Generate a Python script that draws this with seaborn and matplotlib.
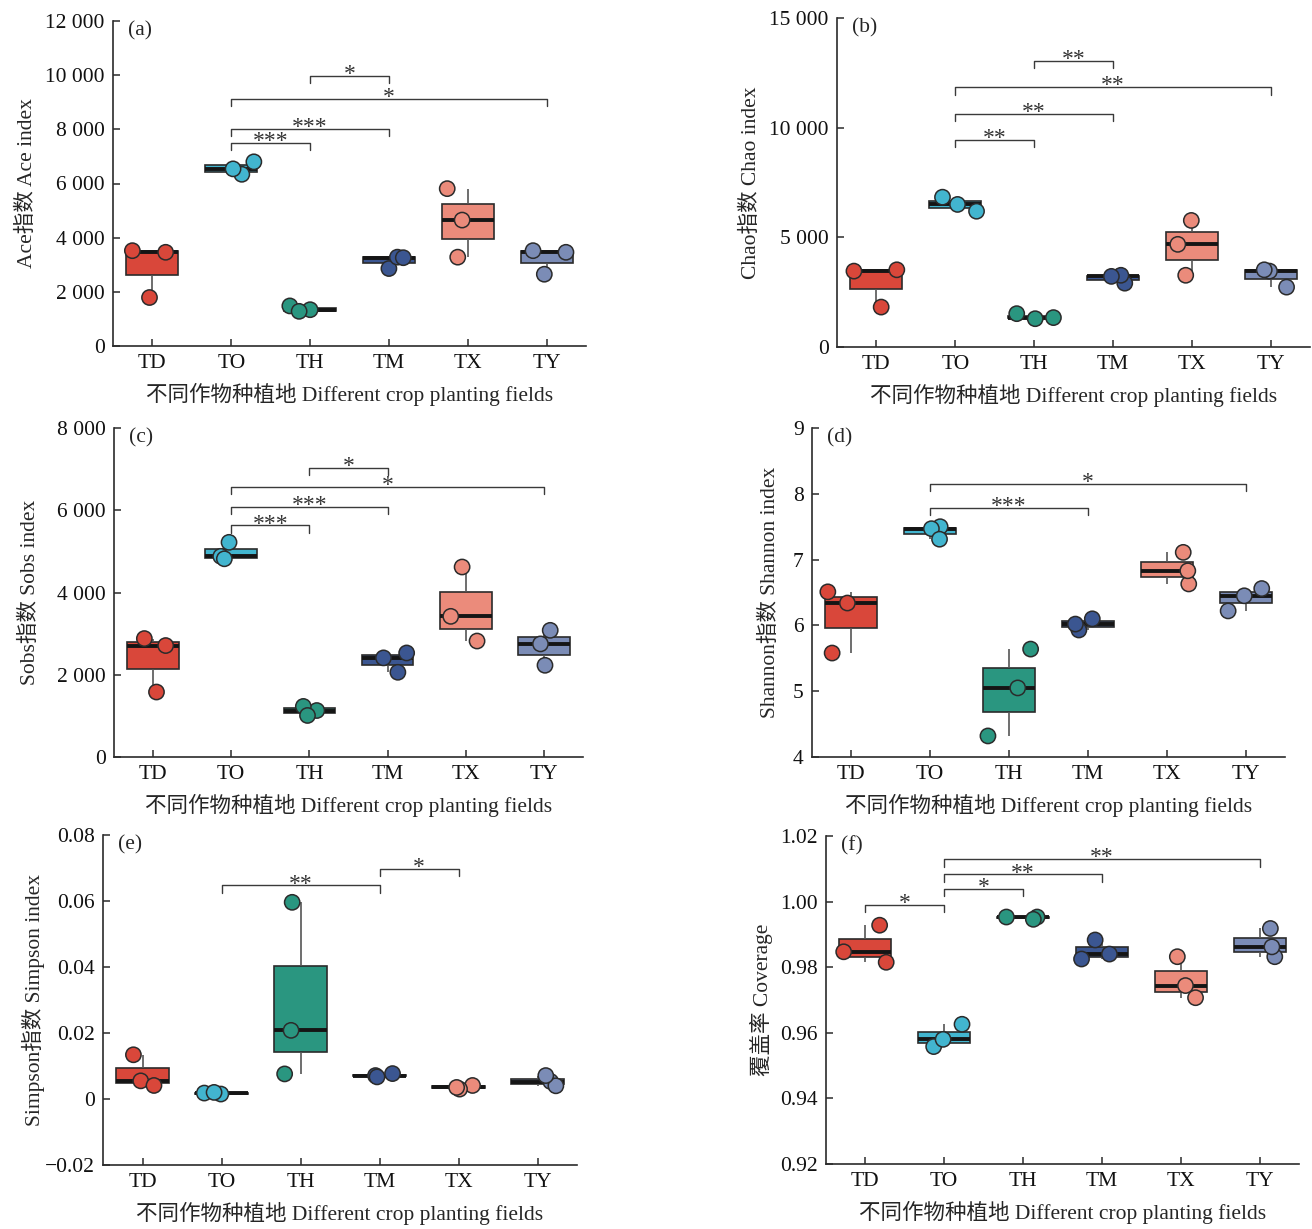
import numpy as np
import pandas as pd
import matplotlib
matplotlib.use("Agg")
import matplotlib.pyplot as plt
import seaborn as sns
from matplotlib.ticker import FuncFormatter

np.random.seed(7)

# --- data (3 replicates per field) ---
groups = ["TD", "TO", "TH", "TM", "TX", "TY"]
colors = ["#d9473a", "#42b5cf", "#2a9680", "#3b5691", "#eb8b7b", "#7b8cb6"]

ace = [[3520, 3460, 1790], [6340, 6800, 6540], [1340, 1480, 1280],
       [2860, 3280, 3260], [4650, 5810, 3280], [3460, 3520, 2650]]
chao = [[3520, 3460, 1820], [6190, 6830, 6500], [1340, 1520, 1290],
        [2910, 3270, 3220], [4680, 5770, 3270], [3460, 3520, 2730]]
sobs = [[2710, 2880, 1580], [4880, 5220, 4820], [1130, 1230, 1010],
        [2060, 2410, 2530], [3420, 2820, 4620], [2750, 3080, 2230]]
shannon = [[6.34, 6.51, 5.58], [7.50, 7.47, 7.31], [5.64, 5.05, 4.32],
           [5.93, 6.10, 6.02], [6.63, 6.83, 7.11], [6.45, 6.56, 6.22]]
simpson = [[0.0134, 0.0055, 0.0041], [0.0015, 0.0018, 0.0020], [0.0596, 0.0208, 0.0076],
           [0.0071, 0.0067, 0.0077], [0.0041, 0.0030, 0.0035], [0.0053, 0.0040, 0.0071]]
coverage = [[0.9928, 0.9815, 0.9847], [0.9626, 0.9558, 0.9580], [0.9953, 0.9946, 0.9953],
            [0.9840, 0.9825, 0.9883], [0.9707, 0.9832, 0.9744], [0.9918, 0.9832, 0.9862]]

# significance brackets: (group a, group b, level, label)
ace_sig = [("TO", "TH", 7490, "***"), ("TO", "TM", 8015, "***"),
           ("TO", "TY", 9130, "*"), ("TH", "TM", 9970, "*")]
chao_sig = [("TO", "TH", 9440, "**"), ("TO", "TM", 10630, "**"),
            ("TO", "TY", 11840, "**"), ("TH", "TM", 13050, "**")]
sobs_sig = [("TO", "TH", 5630, "***"), ("TO", "TM", 6090, "***"),
            ("TO", "TY", 6560, "*"), ("TH", "TM", 7030, "*")]
shannon_sig = [("TO", "TM", 7.79, "***"), ("TO", "TY", 8.15, "*")]
simpson_sig = [("TO", "TM", 0.0647, "**"), ("TM", "TX", 0.0697, "*")]
coverage_sig = [("TD", "TO", 0.9991, "*"), ("TO", "TH", 1.0038, "*"),
                ("TO", "TM", 1.0083, "**"), ("TO", "TY", 1.0129, "**")]

xlabel = "不同作物种植地 Different crop planting fields"


def thousands(v, pos):
    return f"{int(round(v)):,}".replace(",", " ")


def simp_fmt(v, pos):
    if abs(v) < 1e-9:
        return "0"
    return f"{v:.2f}".replace("-", "\u2212")


panels = [
    # values, sig, ylabel, ylim, yticks, formatter, letter, axes px (l, r, t, b), ylabel pad
    (ace, ace_sig, "Ace指数 Ace index", (0, 12000), np.arange(0, 12001, 2000),
     FuncFormatter(thousands), "(a)", (113, 586, 21, 346), 6),
    (chao, chao_sig, "Chao指数 Chao index", (0, 15000), np.arange(0, 15001, 5000),
     FuncFormatter(thousands), "(b)", (837, 1310, 18, 347), 6),
    (sobs, sobs_sig, "Sobs指数 Sobs index", (0, 8000), np.arange(0, 8001, 2000),
     FuncFormatter(thousands), "(c)", (114, 583, 428, 757), 12),
    (shannon, shannon_sig, "Shannon指数 Shannon index", (4, 9), np.arange(4, 10, 1),
     FuncFormatter(lambda v, p: f"{v:g}"), "(d)", (812, 1285, 428, 757), 9),
    (simpson, simpson_sig, "Simpson指数 Simpson index", (-0.02, 0.08),
     np.linspace(-0.02, 0.08, 6), FuncFormatter(simp_fmt), "(e)", (103, 577, 835, 1165), 0),
    (coverage, coverage_sig, "覆盖率 Coverage", (0.92, 1.02), np.linspace(0.92, 1.02, 6),
     FuncFormatter(lambda v, p: f"{v:.2f}"), "(f)", (826, 1299, 836, 1164), 5),
]

sns.set_theme(style="ticks")
plt.rcParams["font.family"] = ["Liberation Serif", "Noto Sans CJK SC"]
plt.rcParams["axes.unicode_minus"] = True

W, H = 1312, 1229
fig = plt.figure(figsize=(W / 100, H / 100), dpi=100)
line_c = "#2b2b2b"
fs = 15.5

for vals, sig, ylab, ylim, yt, fmt, letter, (l, r, t, b), ypad in panels:
    ax = fig.add_axes([l / W, 1 - b / H, (r - l) / W, (b - t) / H])
    df = pd.DataFrame({"field": np.repeat(groups, 3),
                       "value": np.ravel(vals)})
    sns.boxplot(data=df, x="field", y="value", hue="field", order=groups,
                palette=colors, saturation=1, width=0.66, showcaps=False,
                showfliers=False, linecolor=line_c, linewidth=1.2,
                legend=False, ax=ax,
                medianprops=dict(color="#151515", linewidth=2.8),
                whiskerprops=dict(color="#555555", linewidth=1.2))
    sns.stripplot(data=df, x="field", y="value", hue="field", order=groups,
                  palette=colors, jitter=0.3, size=11, edgecolor=line_c,
                  linewidth=1.1, legend=False, ax=ax, zorder=4)

    span = ylim[1] - ylim[0]
    drop = 0.022 * span
    for a, c, h, s in sig:
        xa, xb = groups.index(a), groups.index(c)
        ax.plot([xa, xa, xb, xb], [h - drop, h, h, h - drop],
                color="#3a3a3a", lw=1.0, zorder=5)
        ax.annotate(s, xy=((xa + xb) / 2, h), xytext=(0, -3),
                    textcoords="offset points", ha="center", va="baseline",
                    fontsize=17, color="#333333")

    ax.set_xlim(-0.5, 5.5)
    ax.set_ylim(*ylim)
    ax.set_yticks(yt)
    ax.yaxis.set_major_formatter(fmt)
    ax.set_xlabel(xlabel, fontsize=fs, labelpad=7)
    ax.set_ylabel(ylab, fontsize=fs, labelpad=ypad)
    ax.tick_params(direction="in", length=5, width=1.1, labelsize=fs,
                   color=line_c, labelcolor="#111111", pad=6)
    sns.despine(ax=ax)
    for sp in ("left", "bottom"):
        ax.spines[sp].set_color(line_c)
        ax.spines[sp].set_linewidth(1.2)
    ax.text(0.032, 1.0, letter, transform=ax.transAxes, ha="left", va="top",
            fontsize=fs)

fig.savefig("out.png", dpi=100)
